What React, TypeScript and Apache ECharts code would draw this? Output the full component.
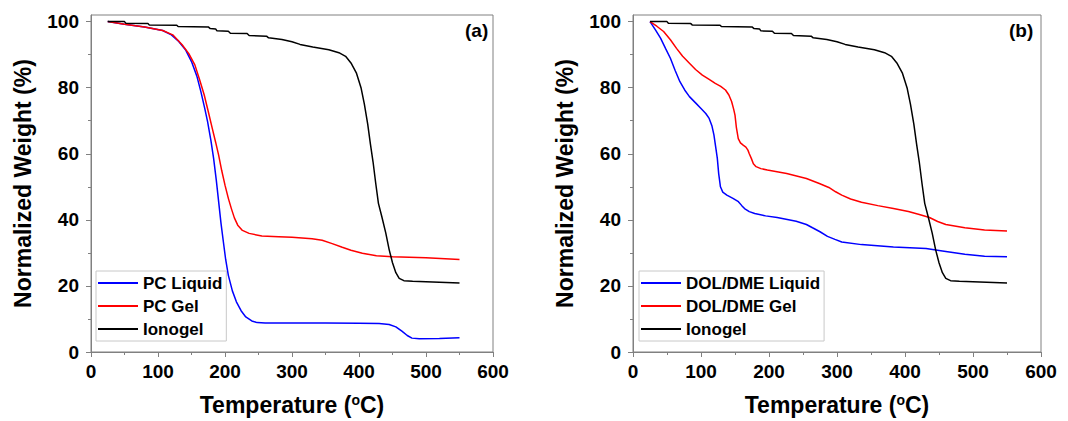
import React, { useEffect, useRef } from "react";
import * as echarts from "echarts";

const xTicks = [0, 100, 200, 300, 400, 500, 600];
const yMajor = [0, 20, 40, 60, 80, 100];
const yMinor = [10, 30, 50, 70, 90];

const ionogel: number[][] = [
  [25, 100], [50, 100], [52, 99.5], [85, 99.4], [87, 99], [128, 98.9], [130, 98.5], [175, 98.4],
  [178, 97.9], [186, 97.8], [188, 97.2], [205, 97.1], [208, 96.5], [233, 96.4], [236, 95.8],
  [262, 95.6], [265, 95.1], [285, 94.6], [300, 93.9], [312, 93.1], [331, 92.3], [355, 91.5],
  [370, 90.6], [380, 89.5], [388, 87.5], [396, 84.5], [403, 80], [408, 75], [413, 69], [417, 63],
  [421, 57.5], [425, 51], [429, 45], [434, 41], [440, 36], [445, 31], [450, 27], [455, 24],
  [460, 22.3], [467, 21.6], [480, 21.4], [510, 21.2], [550, 20.9],
];

const pcLiquid: number[][] = [
  [25, 100], [50, 99.2], [80, 98.4], [107, 97.3], [120, 96], [131, 94], [141, 91.5], [150, 87.9],
  [158, 83.5], [164, 78.8], [170, 73.5], [174, 69.7], [179, 64], [183, 58.6], [187, 52],
  [190.5, 45.5], [194, 39], [197.6, 33.3], [201, 28], [205, 23.2], [211, 18.5], [217, 15.2],
  [224, 12.5], [231, 10.6], [240, 9.4], [248, 8.9], [260, 8.8], [300, 8.8], [350, 8.8],
  [400, 8.7], [430, 8.6], [445, 8.3], [455, 7.6], [464, 6.3], [472, 5], [479, 4.2], [490, 4.0],
  [520, 4.1], [550, 4.3],
];

const pcGel: number[][] = [
  [25, 100], [50, 99.2], [80, 98.4], [107, 97.3], [122, 96], [136, 93], [146, 90.3], [155, 86.9],
  [162, 82.5], [169, 77.8], [175, 72.8], [181, 67.7], [186, 63.5], [190.5, 59.6], [195, 55],
  [200, 50.5], [205, 46.5], [209.5, 43.4], [214, 40.6], [219, 38.4], [226, 36.8], [236, 35.9],
  [255, 35.1], [280, 34.9], [300, 34.7], [330, 34.3], [345, 33.8], [360, 32.8], [375, 31.7],
  [388, 30.8], [405, 29.9], [426, 29.1], [450, 28.8], [500, 28.5], [550, 28.0],
];

const dolLiquid: number[][] = [
  [25, 100], [33, 97.5], [40.5, 95], [48, 91.8], [55, 88.9], [62, 85.2], [69, 81.8], [76, 79.3],
  [83, 77.3], [92, 75.4], [100, 73.7], [107, 72.2], [112, 70.7], [116, 68.5], [119, 65.7],
  [122, 61.5], [124, 58.6], [126, 54], [128.6, 50], [132, 48.4], [138, 47.5], [147, 46.5],
  [155, 45.5], [160, 44.3], [164, 43.4], [171, 42.5], [179, 41.9], [195, 41.2], [212, 40.7],
  [240, 39.6], [255, 38.6], [264, 37.6], [275, 36.4], [286, 35], [297, 34.1], [307, 33.3],
  [336, 32.5], [383, 31.8], [431, 31.3], [455, 30.6], [488, 29.6], [517, 29], [550, 28.8],
];

const dolGel: number[][] = [
  [25, 100], [35, 98.6], [45, 97], [55, 94.5], [64, 91.9], [73, 89.5], [83, 87.4], [92, 85.5],
  [102, 83.8], [112, 82.5], [121, 81.3], [129, 80.4], [136, 79.3], [141, 77.8], [145, 75.8],
  [148, 73.5], [150, 71.7], [152, 68], [154.8, 64.6], [158, 63.3], [162, 62.6], [166, 62],
  [169, 61.1], [171, 60], [174, 58.6], [177, 57], [181, 56.1], [188, 55.5], [197.6, 55.1],
  [226, 54], [255, 52.5], [274, 51], [288, 49.8], [298, 48.5], [307, 47.5], [320, 46.3],
  [336, 45.3], [360, 44.3], [383, 43.4], [405, 42.5], [421, 41.6], [436, 40.7], [448, 39.5],
  [460, 38.6], [488, 37.6], [517, 36.9], [550, 36.6],
];

const FONT = '"Liberation Sans", Arial, sans-serif';
const AX = "#808080";

function xAxisFor(gridIndex: number) {
  return {
    type: "value",
    gridIndex,
    min: xTicks[0],
    max: xTicks[xTicks.length - 1],
    interval: 100,
    axisLine: { show: true, lineStyle: { color: AX, width: 1 } },
    axisTick: { show: true, inside: false, length: 5, lineStyle: { color: AX } },
    minorTick: { show: true, splitNumber: 2, length: 3, lineStyle: { color: AX } },
    splitLine: { show: false },
    minorSplitLine: { show: false },
    axisLabel: { color: "#000", fontFamily: FONT, fontWeight: "bold", fontSize: 19, margin: 10 },
    name: "Temperature ({sup|o}C)",
    nameLocation: "middle",
    nameGap: 41,
    nameTextStyle: {
      color: "#000",
      fontFamily: FONT,
      fontWeight: "bold",
      fontSize: 23,
      rich: {
        sup: { fontFamily: FONT, fontWeight: "bold", fontSize: 14, verticalAlign: "top", lineHeight: 23, color: "#000" },
      },
    },
  };
}

function yAxisMain(gridIndex: number) {
  return {
    type: "value",
    gridIndex,
    min: 0,
    max: 102,
    interval: 20,
    axisLine: { show: true, lineStyle: { color: AX, width: 1 } },
    axisTick: { show: true, inside: false, length: 5, lineStyle: { color: AX }, customValues: yMajor },
    splitLine: { show: false },
    axisLabel: {
      color: "#000",
      fontFamily: FONT,
      fontWeight: "bold",
      fontSize: 19,
      margin: 12,
      customValues: yMajor,
      formatter: (v: number) => (v % 20 === 0 ? String(v) : ""),
    },
    name: "Normalized Weight (%)",
    nameLocation: "middle",
    nameGap: 57,
    nameTextStyle: { color: "#000", fontFamily: FONT, fontWeight: "bold", fontSize: 23 },
  };
}

function yAxisMinor(gridIndex: number) {
  return {
    type: "value",
    gridIndex,
    min: 0,
    max: 102,
    position: "left",
    axisLine: { show: false },
    axisTick: { show: true, inside: false, length: 3, lineStyle: { color: AX }, customValues: yMinor },
    axisLabel: { show: false },
    splitLine: { show: false },
  };
}

function lineSeries(name: string, data: number[][], color: string, axisIdx: number, yIdx: number) {
  return {
    type: "line",
    name,
    data,
    xAxisIndex: axisIdx,
    yAxisIndex: yIdx,
    showSymbol: false,
    symbol: "none",
    smooth: false,
    lineStyle: { color, width: 1.5 },
    itemStyle: { color },
    z: 3,
  };
}

function legendFor(names: string[], left: number) {
  return {
    data: names,
    orient: "vertical",
    left,
    top: 271,
    icon: "rect",
    itemWidth: 40,
    itemHeight: 2,
    itemGap: 5,
    padding: [3, 4, 3, 2],
    borderColor: "#c8c8c8",
    borderWidth: 1,
    borderRadius: 0,
    selectedMode: false,
    textStyle: { color: "#000", fontFamily: FONT, fontWeight: "bold", fontSize: 17, lineHeight: 18 },
  };
}

export default function App() {
  const ref = useRef<HTMLDivElement>(null);
  useEffect(() => {
    if (!ref.current) return;
    const chart = echarts.init(ref.current, null, { renderer: "svg" });
    chart.setOption({
      animation: false,
      backgroundColor: "#fff",
      grid: [
        { left: 91, top: 15, width: 402, height: 337, show: true, borderColor: AX, borderWidth: 1, containLabel: false },
        { left: 633, top: 15, width: 408, height: 337, show: true, borderColor: AX, borderWidth: 1, containLabel: false },
      ],
      xAxis: [xAxisFor(0), xAxisFor(1)],
      yAxis: [yAxisMain(0), yAxisMinor(0), yAxisMain(1), yAxisMinor(1)],
      legend: [
        legendFor(["PC Liquid", "PC Gel", "Ionogel"], 96),
        legendFor(["DOL/DME Liquid", "DOL/DME Gel", "Ionogel"], 639),
      ],
      series: [
        lineSeries("PC Liquid", pcLiquid, "#0000ff", 0, 0),
        lineSeries("PC Gel", pcGel, "#ff0000", 0, 0),
        lineSeries("Ionogel", ionogel, "#000000", 0, 0),
        lineSeries("DOL/DME Liquid", dolLiquid, "#0000ff", 1, 2),
        lineSeries("DOL/DME Gel", dolGel, "#ff0000", 1, 2),
        lineSeries("Ionogel", ionogel, "#000000", 1, 2),
      ],
      graphic: [
        {
          type: "text", left: 465, top: 21,
          style: { text: "(a)", fill: "#000", fontFamily: FONT, fontWeight: "bold", fontSize: 19 },
        },
        {
          type: "text", left: 1009, top: 21,
          style: { text: "(b)", fill: "#000", fontFamily: FONT, fontWeight: "bold", fontSize: 19 },
        },
      ],
    });
    return () => chart.dispose();
  }, []);
  return <div ref={ref} style={{ position: "fixed", left: 0, top: 0, width: 1068, height: 421 }} />;
}
